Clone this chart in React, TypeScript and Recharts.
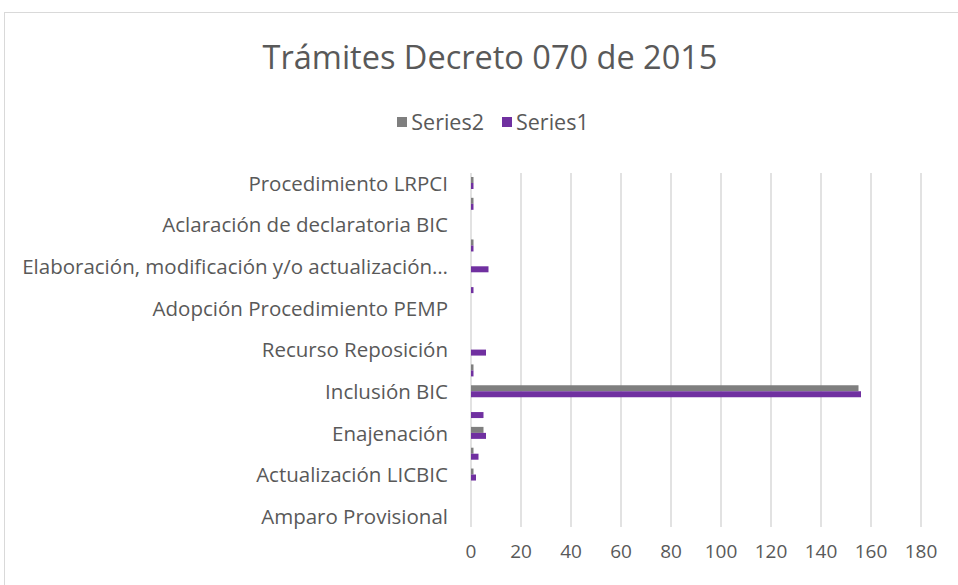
import { Bar, BarChart, CartesianGrid, Legend, XAxis, YAxis } from "recharts";

// Categories listed top to bottom, as they appear on the vertical axis
const categories = [
  "Procedimiento LRPCI",
  "Autorización de intervención BIC",
  "Aclaración de declaratoria BIC",
  "Revocatoria de declaratoria BIC",
  "Elaboración, modificación y/o actualización de PEMP",
  "Aprobación PEMP",
  "Adopción Procedimiento PEMP",
  "Solicitud de concepto técnico",
  "Recurso Reposición",
  "Exclusión BIC",
  "Inclusión BIC",
  "Declaratoria BIC",
  "Enajenación",
  "Registro de bienes muebles",
  "Actualización LICBIC",
  "Recurso de apelación",
  "Amparo Provisional",
];

const series2 = [1, 1, 0, 1, 0, 0, 0, 0, 0, 1, 155, 0, 5, 1, 1, 0, 0];
const series1 = [1, 1, 0, 1, 7, 1, 0, 0, 6, 1, 156, 5, 6, 3, 2, 0, 0];

const xTicks = [0, 20, 40, 60, 80, 100, 120, 140, 160, 180];

const FONT = "'Open Sans', Lato, sans-serif";
const TEXT = "#595959";
const GRID = "#d9d9d9";
const GRAY = "#7f7f7f";
const PURPLE = "#7030a0";

const data = categories.map((name, i) => ({
  name,
  Series2: series2[i],
  Series1: series1[i],
}));

const shorten = (label: string) =>
  label.length > 44 ? label.slice(0, 43) + "…" : label;

const legendItems = [
  { label: "Series2", color: GRAY },
  { label: "Series1", color: PURPLE },
];

function LegendRow() {
  return (
    <div style={{ display: "flex", justifyContent: "center", gap: 18, fontFamily: FONT }}>
      {legendItems.map((item) => (
        <div key={item.label} style={{ display: "flex", alignItems: "center" }}>
          <span
            style={{ width: 10, height: 10, background: item.color, marginRight: 4, display: "inline-block" }}
          />
          <span style={{ color: TEXT, fontSize: 21.5 }}>{item.label}</span>
        </div>
      ))}
    </div>
  );
}

export default function App() {
  return (
    <div
      style={{
        position: "absolute",
        left: 0,
        top: 0,
        width: 958,
        height: 585,
        overflow: "hidden",
        background: "#fff",
      }}
    >
      {/* chart frame, open on the right and bottom */}
      <div style={{ position: "absolute", left: 4, top: 12, width: 1, height: 600, background: GRID }} />
      <div style={{ position: "absolute", left: 4, top: 12, width: 960, height: 1, background: GRID }} />
      <div
        style={{
          position: "absolute",
          top: 34,
          left: 0,
          width: 980,
          textAlign: "center",
          fontFamily: FONT,
          fontSize: 32.5,
          color: TEXT,
        }}
      >
        Trámites Decreto 070 de 2015
      </div>
      <BarChart
        width={958}
        height={585}
        data={data}
        layout="vertical"
        barSize={6}
        barGap={0}
        margin={{ top: 173, right: 37, bottom: 28, left: 0 }}
        style={{ position: "absolute", left: 0, top: 0 }}
      >
        <CartesianGrid stroke={GRID} strokeWidth={1.5} horizontal={false} />
        <XAxis
          type="number"
          domain={[0, 180]}
          ticks={xTicks}
          axisLine={false}
          tickLine={false}
          tickMargin={12}
          tick={{ fill: TEXT, fontSize: 19, fontFamily: FONT }}
        />
        <YAxis
          type="category"
          dataKey="name"
          width={471}
          interval={1}
          axisLine={false}
          tickLine={false}
          tickMargin={17}
          tickFormatter={shorten}
          tick={{ fill: TEXT, fontSize: 20.5, fontFamily: FONT }}
        />
        <Legend
          layout="horizontal"
          verticalAlign="middle"
          align="center"
          content={() => <LegendRow />}
          wrapperStyle={{ position: "absolute", top: 107, left: 0, width: 986 }}
        />
        <Bar dataKey="Series2" fill={GRAY} isAnimationActive={false} />
        <Bar dataKey="Series1" fill={PURPLE} isAnimationActive={false} />
      </BarChart>
    </div>
  );
}
